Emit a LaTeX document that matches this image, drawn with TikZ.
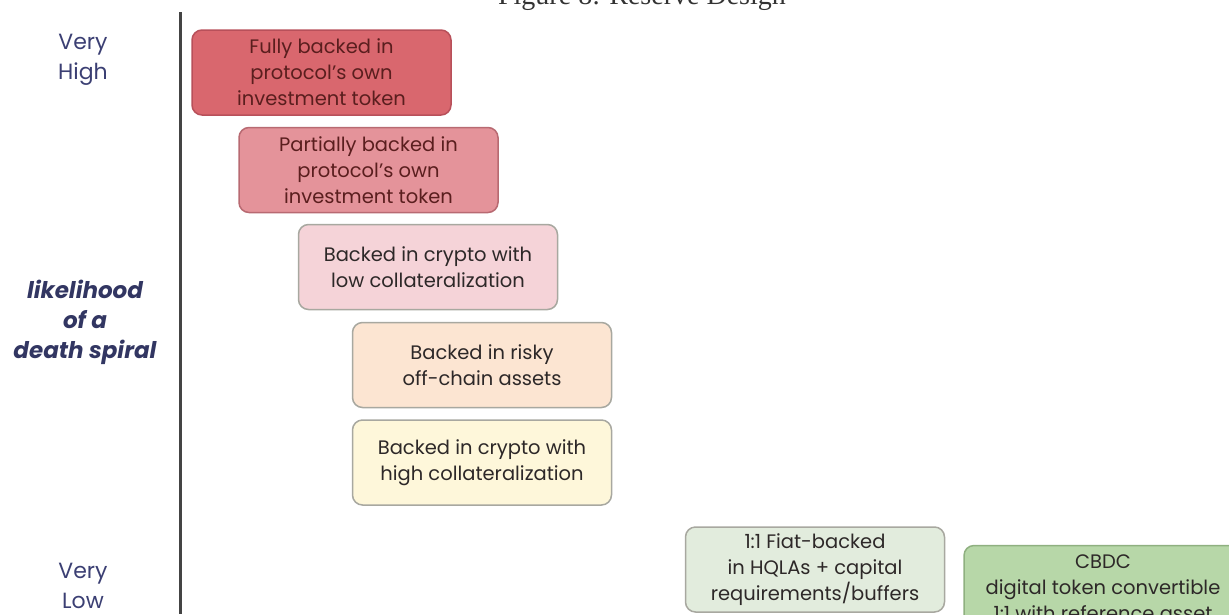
\documentclass[tikz,border=0pt]{standalone}
\usepackage{fontspec}
\setmainfont{Poppins}
\newfontfamily\titleserif{Liberation Serif}
\usepackage{xcolor}
\definecolor{riskdeep}{RGB}{217, 103, 110}
\definecolor{riskdeepline}{RGB}{184, 80, 90}
\definecolor{riskmid}{RGB}{228, 147, 154}
\definecolor{riskmidline}{RGB}{184, 106, 114}
\definecolor{risklow}{RGB}{245, 211, 216}
\definecolor{riskpeach}{RGB}{252, 229, 210}
\definecolor{riskyellow}{RGB}{254, 247, 218}
\definecolor{safepale}{RGB}{226, 236, 221}
\definecolor{safegreen}{RGB}{183, 215, 168}
\definecolor{safegreenline}{RGB}{143, 176, 128}
\definecolor{softline}{RGB}{168, 168, 160}
\definecolor{inkred}{RGB}{90, 30, 30}
\definecolor{inkdark}{RGB}{45, 40, 40}
\definecolor{axisnavy}{RGB}{59, 63, 115}
\definecolor{axisgrey}{RGB}{68, 68, 68}
\usetikzlibrary{positioning}

\begin{document}
\begin{tikzpicture}[x=1pt, y=-1pt,
  tier/.style={rectangle, rounded corners=10pt, line width=1.5pt,
    minimum width=259pt, minimum height=85pt, inner sep=0pt, align=center,
    font=\fontsize{19.5}{26}\selectfont},
  levelnote/.style={align=center, text=axisnavy, font=\fontsize{22}{30}\selectfont}]

  \useasboundingbox (0,0) rectangle (1229,614);
  \clip (0,0) rectangle (1229,614);

  % caption, cut by the top edge
  \node[anchor=base, font=\titleserif\fontsize{28}{28}\selectfont, text=black!80] (caption)
    at (642,4) {Figure 8: Reserve Design};

  % vertical scale
  \coordinate (axtop) at (180,12);
  \coordinate (axbot) at (180,614);
  \draw[line width=3pt, axisgrey] (axtop) -- (axbot);

  \node[levelnote] (veryhigh) at (83,60) {Very\\High};
  \node[levelnote, font=\bfseries\itshape\fontsize{23}{30}\selectfont, text=axisnavy!85!black]
    (spiral) at (85,322) {likelihood\\of a\\death spiral};
  \node[levelnote] (verylow) at (83,586) {Very\\Low};

  % reserve designs, riskiest first
  \node[tier, fill=riskdeep, draw=riskdeepline, text=inkred] (fully) at (321.5,72.5)
    {Fully backed in\\protocol's own\\investment token};
  \node[tier, fill=riskmid, draw=riskmidline, text=inkred] (partial) at (368.5,170)
    {Partially backed in\\protocol's own\\investment token};
  \node[tier, fill=risklow, draw=softline, text=inkdark] (lowcoll) at (428,267)
    {Backed in crypto with\\low collateralization};
  \node[tier, fill=riskpeach, draw=softline, text=inkdark] (offchain) at (482,365)
    {Backed in risky\\off-chain assets};
  \node[tier, fill=riskyellow, draw=softline, text=inkdark] (highcoll) at (482,462.5)
    {Backed in crypto with\\high collateralization};
  \node[tier, fill=safepale, draw=softline, text=inkdark] (fiat) at (815,569.5)
    {1:1 Fiat-backed\\in HQLAs + capital\\requirements/buffers};
  \node[tier, minimum width=278pt, fill=safegreen, draw=safegreenline, text=inkdark] (cbdc) at (1103,588)
    {CBDC\\digital token convertible\\1:1 with reference asset};

\end{tikzpicture}
\end{document}
